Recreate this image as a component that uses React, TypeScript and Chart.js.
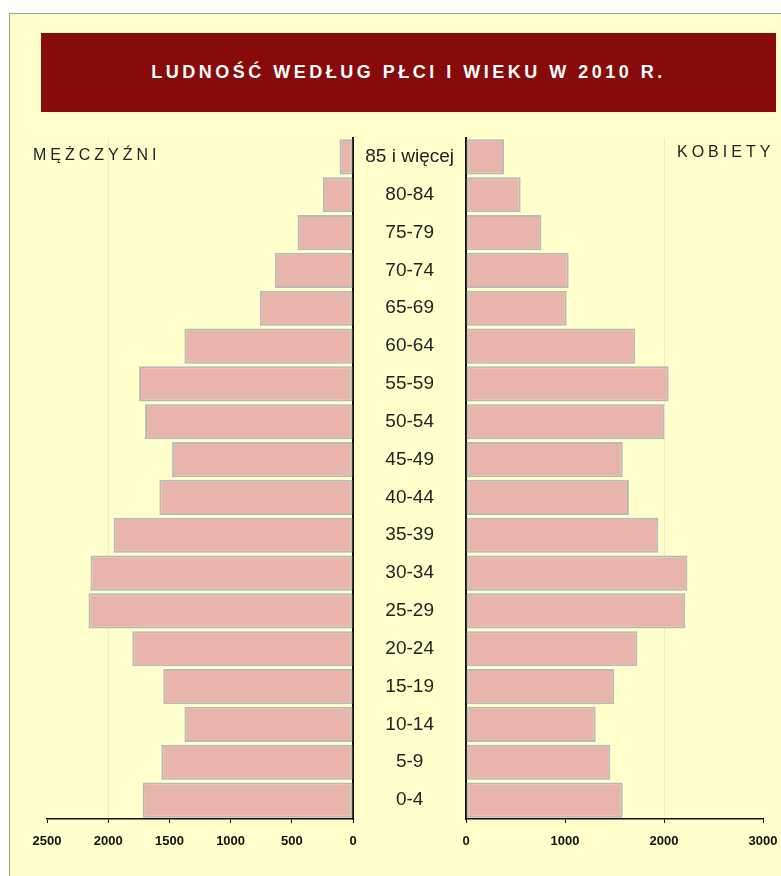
import React, { useEffect, useRef } from "react";
import { Chart, registerables } from "chart.js";

Chart.register(...registerables);

const ageGroups = [
  "85 i więcej", "80-84", "75-79", "70-74", "65-69", "60-64", "55-59", "50-54", "45-49",
  "40-44", "35-39", "30-34", "25-29", "20-24", "15-19", "10-14", "5-9", "0-4",
];
const menValues = [110, 246, 453, 639, 762, 1377, 1748, 1699, 1478, 1582, 1956, 2145, 2161, 1803, 1550, 1377, 1566, 1718];
const womenValues = [384, 552, 761, 1037, 1017, 1710, 2047, 2003, 1583, 1646, 1943, 2236, 2215, 1731, 1498, 1310, 1458, 1583];
const menMax = 2500;
const menStep = 500;
const womenMax = 3000;
const womenStep = 1000;
const gridValue = 2000;

const BAR_FILL = "#E8B4AC";
const BAR_BORDER = "#B9B9B9";
const AXIS = "#111111";
const GRID = "#ECECC6";
const TICK_FONT = { family: "Liberation Sans, Arial, sans-serif", size: 13, weight: "bold" as const };
const CAT_FONT = { family: "Liberation Sans, Arial, sans-serif", size: 19 };

function makeX(max: number, step: number, reverse: boolean) {
  return {
    type: "linear" as const,
    min: 0,
    max,
    reverse,
    ticks: {
      stepSize: step,
      font: TICK_FONT,
      color: AXIS,
      padding: 11,
      maxRotation: 0,
      autoSkip: false,
      callback: (v: any) => String(v),
    },
    grid: {
      color: (c: any) => (c.tick && c.tick.value === gridValue ? GRID : "rgba(0,0,0,0)"),
      tickColor: AXIS,
      tickLength: 4,
      lineWidth: 1,
    },
    border: { color: AXIS, width: 1.5 },
    afterFit: (s: any) => {
      s.height = 30;
      s.paddingLeft = 0;
      s.paddingRight = 0;
    },
  };
}

export default function App() {
  const leftRef = useRef<HTMLCanvasElement>(null);
  const rightRef = useRef<HTMLCanvasElement>(null);

  useEffect(() => {
    document.body.style.overflow = "hidden";
    const dataset = (vals: number[]) => ({
      data: vals,
      backgroundColor: BAR_FILL,
      borderColor: BAR_BORDER,
      borderWidth: 2,
      borderSkipped: false as const,
      barPercentage: 0.93,
      categoryPercentage: 1,
    });
    const left = new Chart(leftRef.current!, {
      type: "bar",
      data: { labels: ageGroups, datasets: [dataset(menValues)] },
      options: {
        indexAxis: "y",
        animation: false,
        responsive: false,
        maintainAspectRatio: false,
        layout: { padding: { left: 27, top: 10, right: 0, bottom: 0 } },
        plugins: { legend: { display: false }, tooltip: { enabled: false }, title: { display: false } },
        scales: {
          x: makeX(menMax, menStep, true),
          y: {
            position: "right",
            ticks: { display: false },
            grid: { display: false },
            border: { color: AXIS, width: 2 },
            afterFit: (s: any) => {
              s.width = 7;
              s.paddingTop = 0;
              s.paddingBottom = 0;
            },
          },
        },
      },
    });
    const right = new Chart(rightRef.current!, {
      type: "bar",
      data: { labels: ageGroups, datasets: [dataset(womenValues)] },
      options: {
        indexAxis: "y",
        animation: false,
        responsive: false,
        maintainAspectRatio: false,
        layout: { padding: { left: 0, top: 10, right: 18, bottom: 0 } },
        plugins: { legend: { display: false }, tooltip: { enabled: false }, title: { display: false } },
        scales: {
          x: makeX(womenMax, womenStep, false),
          y: {
            position: "left",
            ticks: { font: CAT_FONT, color: "#222222", crossAlign: "center", padding: 4, autoSkip: false },
            grid: { display: false },
            border: { color: AXIS, width: 2 },
            afterFit: (s: any) => {
              s.width = 113;
              s.paddingTop = 0;
              s.paddingBottom = 0;
            },
          },
        },
      },
    });
    return () => {
      left.destroy();
      right.destroy();
    };
  }, []);

  const sideLabel: React.CSSProperties = {
    position: "absolute",
    fontFamily: "Liberation Sans, Arial, sans-serif",
    fontSize: 16,
    letterSpacing: 4,
    color: "#222",
    zIndex: 2,
    lineHeight: "18px",
  };

  return (
    <div>
      <div
        style={{
          position: "absolute",
          left: 9,
          top: 13,
          width: 772,
          height: 863,
          boxSizing: "border-box",
          borderLeft: "1px solid #A0A0A0",
          borderTop: "1px solid #A0A0A0",
          background: "#FFFFCC",
        }}
      />
      <div
        style={{
          position: "absolute",
          left: 41,
          top: 33,
          width: 735,
          height: 79,
          background: "#870B0A",
          color: "#FFFFFF",
          textAlign: "center",
          lineHeight: "79px",
          fontFamily: "'Liberation Sans', Arial, sans-serif",
          fontWeight: "bold",
          fontSize: 18,
          letterSpacing: 3.5,
        }}
      >
        LUDNOŚĆ WEDŁUG PŁCI I WIEKU W 2010 R.
      </div>
      <div style={{ ...sideLabel, left: 33, top: 146 }}>MĘŻCZYŹNI</div>
      <div style={{ ...sideLabel, left: 677, top: 143 }}>KOBIETY</div>
      <canvas
        ref={leftRef}
        width={340}
        height={721}
        style={{ position: "absolute", left: 20, top: 128, width: 340, height: 721, zIndex: 1 }}
      />
      <canvas
        ref={rightRef}
        width={428}
        height={721}
        style={{ position: "absolute", left: 353, top: 128, width: 428, height: 721, zIndex: 1 }}
      />
    </div>
  );
}
